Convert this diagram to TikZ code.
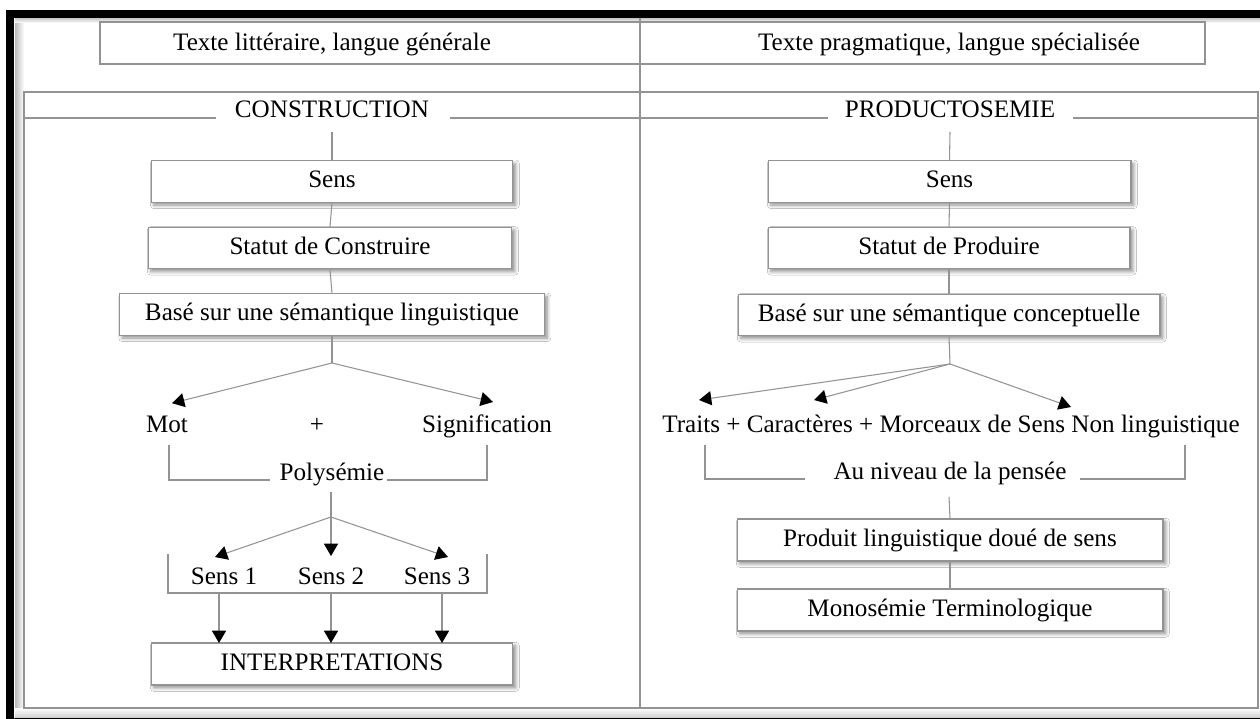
\documentclass[tikz,border=0pt]{standalone}
\usepackage{fontspec}
\setmainfont{Liberation Serif}
\usetikzlibrary{arrows.meta,shadows.blur}
\begin{document}
\begin{tikzpicture}[x=0.02cm,y=-0.02cm,font=\fontsize{14.3}{16}\selectfont,
  ln/.style={draw=gray!85,line width=0.6pt},
  arr/.style={ln,-{Triangle[length=7pt,width=8pt,color=black]}},
  box/.style={ln,fill=white,minimum height=0.83cm,inner sep=0pt,text height=10pt,text depth=3pt,
    blur shadow={shadow xshift=1.6pt,shadow yshift=-1.6pt,shadow blur radius=2pt,shadow blur steps=6,shadow opacity=45}},
  lbl/.style={inner sep=0pt,anchor=base}]
\clip (0,0) rectangle (1260,719);
\fill[white] (0,0) rectangle (1260,719);
% cadre
\fill[left color=gray!55,right color=white] (15,18) rectangle (24,717);
\fill[top color=gray!45,bottom color=white] (15,18) rectangle (1260,23);
\fill[top color=white,bottom color=gray!35] (15,708) rectangle (1260,717);
\draw[line width=0.16cm] (10,14) rectangle (1290,722);
\draw[ln] (100,22) rectangle (640,64);
\draw[ln] (640,22) rectangle (1205,64);
\draw[ln] (24,92) rectangle (1258,708);
\draw[ln] (640,18) -- (640,708);
\node[lbl] (litt) at (332,51) {Texte littéraire, langue générale};
\node[lbl] (prag) at (949,51) {Texte pragmatique, langue spécialisée};
\node[lbl] (cons) at (332,118) {CONSTRUCTION};
\node[lbl] (prod) at (950,118) {PRODUCTOSEMIE};
\draw[ln] (24,118) -- (216,118);
\draw[ln] (450,118) -- (828,118);
\draw[ln] (1073,118) -- (1258,118);
\coordinate (topL) at (332,132);
\coordinate (topR) at (950,132);
% colonne gauche
\node[box,minimum width=7.24cm] (sensL) at (332,181.5) {Sens};
\node[box,minimum width=7.28cm] (statL) at (330,248) {Statut de Construire};
\node[box,minimum width=8.5cm] (baseL) at (332,314.5) {Basé sur une sémantique linguistique};
\draw[ln] (topL) -- (sensL.north);
\draw[ln] (sensL.south) -- (statL.north);
\draw[ln] (statL.south) -- (baseL.north);
\coordinate (jL) at (332,363);
\draw[ln] (baseL.south) -- (jL);
\node[lbl] (mot) at (167,432) {Mot};
\node[lbl] (plus) at (317,432) {+};
\node[lbl] (signif) at (487,432) {Signification};
\draw[arr] (jL) -- ([xshift=0.1cm,yshift=0.24cm]mot.north);
\draw[arr] (jL) -- ([xshift=0.12cm,yshift=0.24cm]signif.north);
\node[lbl] (poly) at (332,480) {Polysémie};
\draw[ln] (169,445) -- (169,480) -- (270,480);
\draw[ln] (387,480) -- (487,480) -- (487,445);
\coordinate (jP) at (331,517);
\draw[ln] (331,492) -- (jP);
\node[lbl] (s1) at (224,584) {Sens 1};
\node[lbl] (s2) at (331,584) {Sens 2};
\node[lbl] (s3) at (437,584) {Sens 3};
\draw[arr] (jP) -- ([xshift=-0.18cm,yshift=0.2cm]s1.north);
\draw[arr] (jP) -- ([yshift=0.22cm]s2.north);
\draw[arr] (jP) -- ([xshift=0.22cm,yshift=0.2cm]s3.north);
\draw[ln] (168,554) -- (168,593) -- (487,593) -- (487,554);
\node[box,minimum width=7.24cm,minimum height=0.84cm] (interp) at (332,664) {INTERPRETATIONS};
\draw[arr] (219,593) -- (219,643);
\draw[arr] (331,593) -- (331,643);
\draw[arr] (442,593) -- (442,643);
% colonne droite
\node[box,minimum width=7.26cm] (sensR) at (949.5,181.5) {Sens};
\node[box,minimum width=7.24cm] (statR) at (949,248) {Statut de Produire};
\node[box,minimum width=8.44cm] (baseR) at (949,315) {Basé sur une sémantique conceptuelle};
\draw[ln] (topR) -- (sensR.north);
\draw[ln] (sensR.south) -- (statR.north);
\draw[ln] (statR.south) -- (baseR.north);
\coordinate (jR) at (950,364);
\draw[ln] (baseR.south) -- (jR);
\node[lbl] (traits) at (951,432) {Traits + Caractères + Morceaux de Sens Non linguistique};
\coordinate (tTraits) at (699,400);
\coordinate (tCarac) at (814,400);
\coordinate (tMorc) at (1071,407);
\draw[arr] (jR) -- (tTraits);
\draw[arr] (jR) -- (tCarac);
\draw[arr] (jR) -- (tMorc);
\node[lbl] (pensee) at (950,479) {Au niveau de la pensée};
\draw[ln] (705,445) -- (705,479) -- (805,479);
\draw[ln] (1080,479) -- (1185,479) -- (1185,445);
\node[box,minimum width=8.52cm,minimum height=0.84cm] (produit) at (950,540) {Produit linguistique doué de sens};
\node[box,minimum width=8.52cm,minimum height=0.84cm] (mono) at (950,610) {Monosémie Terminologique};
\draw[ln] (949,497) -- (produit.north);
\draw[ln] (produit.south) -- (mono.north);
\end{tikzpicture}
\end{document}
